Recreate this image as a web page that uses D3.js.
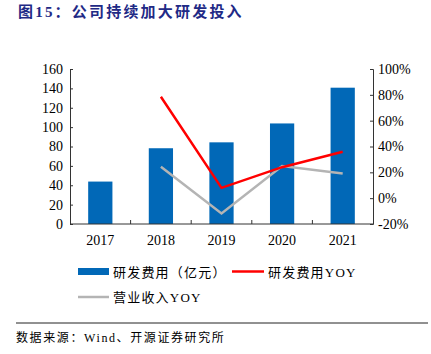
<!DOCTYPE html>
<html>
<head>
<meta charset="utf-8">
<script src="https://cdn.jsdelivr.net/npm/d3@7"></script>
<style>
  body { margin: 0; background: #fff; }
  text { font-family: "Liberation Serif", "Noto Sans CJK SC", serif; }
</style>
</head>
<body>
<div id="chart"></div>
<script>
// data
const years = ["2017", "2018", "2019", "2020", "2021"];
const rdExpense = [43.8, 78.2, 84.3, 103.8, 140.7];        // 研发费用（亿元）
const rdYoy = [null, 78.5, 8.0, 24.0, 36.0];                // 研发费用YOY (%)
const revenueYoy = [null, 24.3, -11.8, 24.8, 19.1];         // 营业收入YOY (%)
const leftTicks = [0, 20, 40, 60, 80, 100, 120, 140, 160];
const rightTicks = [-20, 0, 20, 40, 60, 80, 100];

const W = 431, H = 354;
const plot = { left: 70, right: 373, top: 69, bottom: 224 };

const svg = d3.select("#chart").append("svg")
    .attr("width", W)
    .attr("height", H);

// title
svg.append("text")
    .attr("x", 18).attr("y", 17)
    .attr("font-size", "15px")
    .attr("font-weight", "bold")
    .attr("letter-spacing", "2.2px")
    .attr("fill", "#1F2A86")
    .text("图15：公司持续加大研发投入");

const x = d3.scaleBand()
    .domain(years)
    .range([plot.left, plot.right])
    .paddingInner(0.6)
    .paddingOuter(0.3);

const yL = d3.scaleLinear().domain([0, 160]).range([plot.bottom, plot.top]);
const yR = d3.scaleLinear().domain([-20, 100]).range([plot.bottom, plot.top]);

// bars
svg.selectAll(".bar")
    .data(years)
    .join("rect")
    .attr("class", "bar")
    .attr("x", d => x(d))
    .attr("width", x.bandwidth())
    .attr("y", (d, i) => yL(rdExpense[i]))
    .attr("height", (d, i) => yL(0) - yL(rdExpense[i]))
    .attr("fill", "#0168B7");

// axes
const axisStyle = g => {
    g.select(".domain").attr("stroke", "#333");
    g.selectAll(".tick line").attr("stroke", "#333");
    g.selectAll(".tick text").attr("fill", "#000").attr("font-size", "14px")
        .attr("font-family", "Liberation Serif, serif");
};

svg.append("g")
    .attr("transform", `translate(${plot.left},0)`)
    .call(d3.axisRight(yL).tickValues(leftTicks).tickSize(3).tickSizeOuter(3))
    .call(axisStyle)
    .call(g => g.selectAll(".tick text").attr("x", -7).attr("text-anchor", "end"));

svg.append("g")
    .attr("transform", `translate(${plot.right},0)`)
    .call(d3.axisLeft(yR).tickValues(rightTicks).tickFormat(d => d + "%").tickSize(3).tickSizeOuter(3))
    .call(axisStyle)
    .call(g => g.selectAll(".tick text").attr("x", 5).attr("text-anchor", "start"));

// x axis: ticks between categories, pointing up
const xAxis = svg.append("g")
    .attr("transform", `translate(0,${plot.bottom})`);
xAxis.append("line")
    .attr("x1", plot.left).attr("x2", plot.right)
    .attr("stroke", "#333");
xAxis.selectAll(".sep")
    .data(years.slice(1))
    .join("line")
    .attr("x1", d => x(d) - x.step() * x.paddingInner() / 2)
    .attr("x2", d => x(d) - x.step() * x.paddingInner() / 2)
    .attr("y1", 0).attr("y2", -4)
    .attr("stroke", "#333");
xAxis.selectAll(".lbl")
    .data(years)
    .join("text")
    .attr("x", d => x(d) + x.bandwidth() / 2)
    .attr("y", 21)
    .attr("text-anchor", "middle")
    .attr("font-size", "14px")
    .text(d => d);

// lines
const line = vals => d3.line()
    .defined((d, i) => vals[i] != null)
    .x(d => x(d) + x.bandwidth() / 2)
    .y((d, i) => yR(vals[i]))(years);

svg.append("path")
    .attr("d", line(revenueYoy))
    .attr("fill", "none")
    .attr("stroke", "#B4B4B4")
    .attr("stroke-width", 2.5);

svg.append("path")
    .attr("d", line(rdYoy))
    .attr("fill", "none")
    .attr("stroke", "#FF0000")
    .attr("stroke-width", 2.5);

// legend
const leg = svg.append("g").attr("font-size", "13px").attr("letter-spacing", "1.2px");
leg.append("rect").attr("x", 78).attr("y", 268).attr("width", 31).attr("height", 7).attr("fill", "#0168B7");
leg.append("text").attr("x", 113).attr("y", 277).text("研发费用（亿元）");
leg.append("line").attr("x1", 232).attr("x2", 264).attr("y1", 271.5).attr("y2", 271.5)
    .attr("stroke", "#FF0000").attr("stroke-width", 2.5);
leg.append("text").attr("x", 268).attr("y", 277).text("研发费用YOY");
leg.append("line").attr("x1", 78).attr("x2", 109).attr("y1", 297).attr("y2", 297)
    .attr("stroke", "#B4B4B4").attr("stroke-width", 2.5);
leg.append("text").attr("x", 113).attr("y", 302).text("营业收入YOY");

// footer
svg.append("line")
    .attr("x1", 16).attr("x2", 428)
    .attr("y1", 323).attr("y2", 323)
    .attr("stroke", "#222").attr("stroke-width", 1);
svg.append("text")
    .attr("x", 16).attr("y", 342)
    .attr("font-size", "12px")
    .attr("letter-spacing", "1.6px")
    .text("数据来源：Wind、开源证券研究所");
</script>
</body>
</html>
